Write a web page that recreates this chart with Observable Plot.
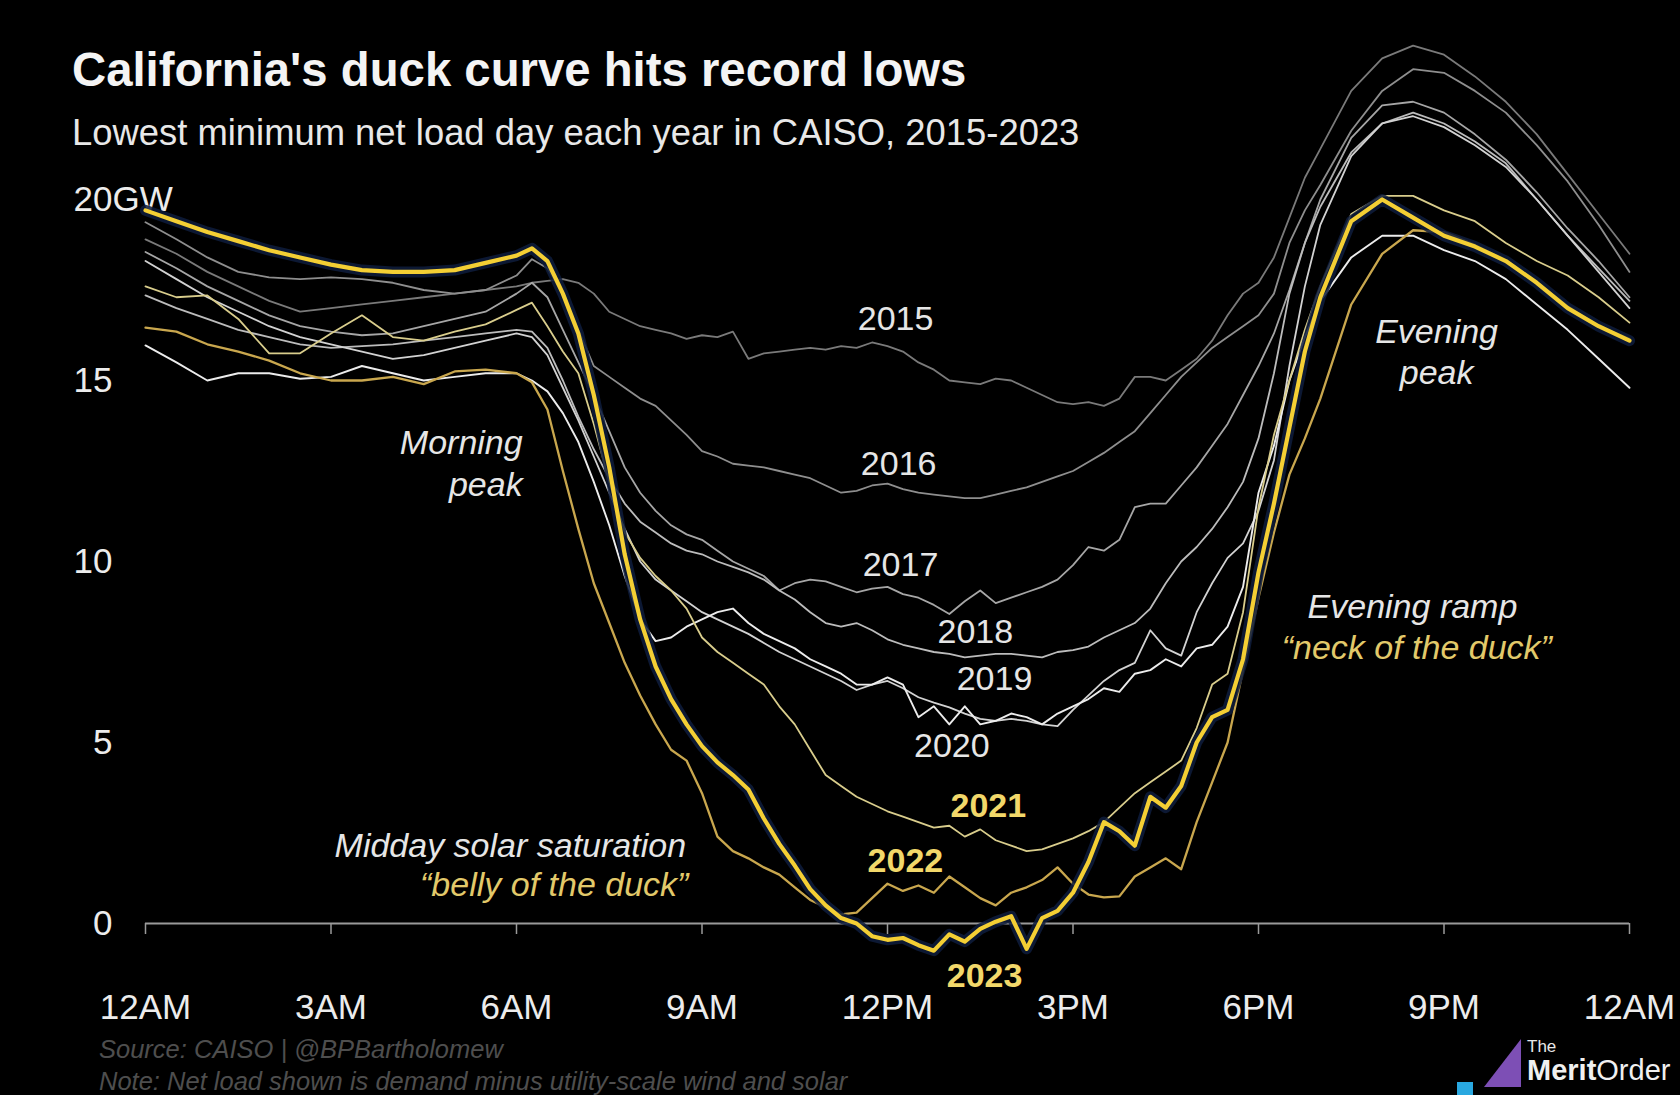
<!DOCTYPE html>
<html>
<head>
<meta charset="utf-8">
<script src="https://cdn.jsdelivr.net/npm/d3@7"></script>
<script src="https://cdn.jsdelivr.net/npm/@observablehq/plot@0.6"></script>
<style>
  html, body { margin: 0; padding: 0; background: #000; }
  #frame { position: relative; width: 1680px; height: 1095px; background: #000; overflow: hidden; font-family: "Liberation Sans", Arial, sans-serif; }
  #chart { position: absolute; left: 0; top: 0; }
  .title { position: absolute; left: 72px; top: 46px; font-size: 47.3px; line-height: 47px; font-weight: bold; color: #f4f4f4; white-space: nowrap; }
  .subtitle { position: absolute; left: 72px; top: 115px; font-size: 36.4px; line-height: 36px; color: #e8e8e8; white-space: nowrap; }
  .foot { position: absolute; left: 99px; font-size: 25.5px; line-height: 25px; font-style: italic; color: #4e4e4e; white-space: nowrap; }
  #logo { position: absolute; left: 1450px; top: 1030px; }
</style>
</head>
<body>
<div id="frame">
  <div id="chart"></div>
  <div class="title">California's duck curve hits record lows</div>
  <div class="subtitle">Lowest minimum net load day each year in CAISO, 2015-2023</div>
  <div class="foot" style="top:1037px">Source: CAISO | @BPBartholomew</div>
  <div class="foot" style="top:1069px">Note: Net load shown is demand minus utility-scale wind and solar</div>
  <svg id="logo" width="230" height="65" viewBox="0 0 230 65">
    <rect x="7" y="52" width="16" height="13" fill="#29a8e0"></rect>
    <polygon points="34,57 71,9 71,57" fill="#7d4fb5"></polygon>
    <text x="77" y="22" font-size="17" fill="#e8e8e8" font-family="Liberation Sans, Arial, sans-serif">The</text>
    <text x="77" y="50" font-size="29" fill="#f0f0f0" font-family="Liberation Sans, Arial, sans-serif"><tspan font-weight="bold">Merit</tspan><tspan>Order</tspan></text>
  </svg>
</div>
<script>
// ---------- DATA ----------
const hours = [0,0.5,1,1.5,2,2.5,3,3.5,4,4.5,5,5.5,
  6,6.25,6.5,6.75,7,7.25,7.5,7.75,8,8.25,8.5,8.75,9,
  9.25,9.5,9.75,10,10.25,10.5,10.75,11,11.25,11.5,11.75,12,
  12.25,12.5,12.75,13,13.25,13.5,13.75,14,14.25,14.5,14.75,15,
  15.25,15.5,15.75,16,16.25,16.5,16.75,17,17.25,17.5,17.75,18,18.25,18.5,18.75,19,
  19.5,20,20.5,21,21.5,22,22.5,23,23.5,24];

const load2015 = [18.9,18.5,18.0,17.6,17.2,16.9,17.0,17.1,17.2,17.3,17.4,17.5,
  17.6,17.7,17.75,17.8,17.7,17.4,16.9,16.7,16.5,16.4,16.3,16.15,16.25,
  16.2,16.35,15.6,15.75,15.8,15.85,15.9,15.85,15.95,15.9,16.05,15.95,
  15.8,15.5,15.3,15.0,14.95,14.9,15.05,15.0,14.8,14.6,14.4,14.35,
  14.4,14.3,14.5,15.1,15.1,15.0,15.3,15.6,16.1,16.8,17.4,17.7,18.4,19.5,20.6,21.4,
  23.0,23.9,24.25,24.0,23.4,22.7,21.8,20.7,19.6,18.5];

const load2016 = [19.37,18.9,18.4,18.0,17.85,17.8,17.85,17.8,17.7,17.5,17.4,17.5,
  17.9,18.35,18.1,17.4,16.4,15.4,15.1,14.8,14.5,14.3,13.9,13.5,13.05,
  12.9,12.7,12.65,12.6,12.5,12.4,12.3,12.1,11.9,11.95,12.1,12.15,
  12.0,11.9,11.85,11.8,11.75,11.75,11.85,11.95,12.05,12.2,12.35,12.5,
  12.75,13.0,13.3,13.6,14.1,14.6,15.1,15.5,15.9,16.2,16.5,16.8,17.4,18.8,19.7,20.4,
  21.9,23.0,23.6,23.5,23.0,22.4,21.5,20.5,19.3,18.0];

const load2017 = [18.55,18.1,17.6,17.2,16.8,16.5,16.35,16.25,16.3,16.5,16.7,16.9,
  17.4,17.7,17.3,16.4,15.5,14.6,13.6,12.6,11.9,11.4,11.0,10.75,10.6,
  10.3,10.0,9.8,9.6,9.2,9.4,9.5,9.45,9.3,9.15,9.25,9.3,
  9.1,9.0,8.8,8.55,8.9,9.2,8.85,9.0,9.15,9.3,9.5,9.9,
  10.4,10.3,10.6,11.5,11.6,11.6,12.1,12.6,13.2,13.8,14.6,15.4,16.3,17.5,18.8,20.0,
  21.7,22.6,22.7,22.4,21.8,21.1,20.2,19.2,18.3,17.3];

const load2018 = [17.35,17.0,16.7,16.4,16.2,16.0,15.9,15.95,16.0,16.1,16.2,16.3,
  16.4,16.35,15.9,15.0,14.0,13.1,12.3,11.6,11.1,10.8,10.5,10.3,10.2,
  10.0,9.85,9.7,9.5,9.2,8.95,8.6,8.3,8.2,8.3,8.1,7.85,
  7.7,7.6,7.5,7.45,7.35,7.4,7.45,7.45,7.4,7.35,7.5,7.55,
  7.65,7.9,8.1,8.3,8.7,9.4,10.0,10.4,10.9,11.5,12.2,13.4,15.2,17.4,18.8,19.8,
  21.3,22.1,22.4,22.1,21.6,21.0,20.0,19.0,18.1,17.2];

const load2019 = [18.3,17.8,17.3,16.9,16.5,16.2,16.0,15.8,15.6,15.7,15.9,16.1,
  16.3,16.2,15.7,14.8,13.9,12.9,11.9,10.9,10.0,9.5,9.2,8.9,8.6,
  8.4,8.2,8.0,7.75,7.5,7.3,7.1,6.9,6.7,6.45,6.6,6.7,
  6.5,6.25,6.1,5.97,5.8,5.65,5.6,5.65,5.6,5.5,5.45,5.9,
  6.3,6.7,7.0,7.2,8.1,7.6,7.4,8.6,9.4,10.1,10.5,11.4,12.8,15.4,17.6,19.3,
  21.2,22.1,22.3,22.0,21.5,20.9,20.0,19.0,18.0,17.0];

const load2020 = [15.97,15.5,15.0,15.2,15.2,15.05,15.1,15.4,15.2,15.0,15.1,15.2,
  15.2,15.0,14.7,14.1,13.3,12.2,11.0,9.6,8.4,7.8,7.9,8.2,8.4,
  8.6,8.7,8.3,8.0,7.8,7.6,7.3,7.1,6.9,6.6,6.6,6.8,
  6.6,5.7,6.0,5.5,6.0,5.5,5.6,5.8,5.7,5.5,5.8,6.0,
  6.2,6.5,6.4,6.9,7.0,7.3,7.1,7.6,7.7,8.2,9.3,11.9,13.2,15.0,16.2,17.2,
  18.4,19.0,19.0,18.6,18.3,17.8,17.1,16.4,15.6,14.8];

const load2021 = [17.6,17.3,17.35,16.7,15.75,15.75,16.3,16.8,16.2,16.1,16.35,16.55,
  16.95,17.15,16.5,15.8,15.2,13.8,12.2,10.8,10.1,9.6,9.2,8.7,7.9,
  7.5,7.2,6.9,6.6,6.0,5.5,4.8,4.1,3.8,3.5,3.3,3.1,
  2.95,2.8,2.65,2.7,2.4,2.6,2.3,2.15,2.0,2.05,2.2,2.35,
  2.55,2.8,3.2,3.6,3.9,4.2,4.5,5.4,6.6,6.9,8.6,11.5,13.5,15.0,16.4,17.6,
  19.6,20.1,20.1,19.7,19.4,18.8,18.3,17.9,17.3,16.6];

const load2022 = [16.46,16.35,16.0,15.8,15.55,15.2,15.0,15.0,15.1,14.9,15.25,15.3,
  15.2,14.95,14.2,12.5,10.9,9.4,8.3,7.2,6.3,5.5,4.8,4.5,3.6,
  2.4,2.0,1.8,1.55,1.35,1.0,0.65,0.45,0.25,0.3,0.7,1.1,
  0.9,1.05,0.85,1.3,1.0,0.7,0.5,0.85,1.0,1.2,1.55,1.1,
  0.8,0.72,0.75,1.3,1.55,1.8,1.5,2.8,3.9,5.0,7.0,9.0,10.8,12.4,13.4,14.5,
  17.1,18.5,19.15,19.1,18.75,18.3,17.7,17.05,16.5,16.15];

const load2023 = [19.7,19.4,19.1,18.85,18.6,18.4,18.2,18.05,18.0,18.0,18.05,18.25,
  18.45,18.65,18.3,17.4,16.3,14.6,12.6,10.2,8.4,7.1,6.2,5.5,4.9,
  4.45,4.1,3.7,2.9,2.2,1.6,0.95,0.5,0.15,0.0,-0.35,-0.45,
  -0.4,-0.6,-0.75,-0.3,-0.5,-0.15,0.05,0.2,-0.7,0.15,0.35,0.85,
  1.7,2.8,2.55,2.15,3.5,3.2,3.8,5.0,5.7,5.9,7.3,9.7,11.6,13.7,15.8,17.3,
  19.4,20.0,19.5,19.0,18.7,18.3,17.7,17.0,16.5,16.1];

const years = [2015,2016,2017,2018,2019,2020,2021,2022,2023];
const seriesByYear = {2015: load2015, 2016: load2016, 2017: load2017, 2018: load2018, 2019: load2019,
  2020: load2020, 2021: load2021, 2022: load2022, 2023: load2023};

const xTickHours = [0,3,6,9,12,15,18,21,24];
const xTickLabels = ["12AM","3AM","6AM","9AM","12PM","3PM","6PM","9PM","12AM"];
const yTicks = [0,5,10,15,20];

// ---------- STYLE ----------
const lineColor = {2015:"#7a7a7a",2016:"#8e8e8e",2017:"#a6a6a6",2018:"#bcbcbc",2019:"#d2d2d2",2020:"#ececec",
  2021:"#d9cd8c",2022:"#c9a74e",2023:"#f4cf34"};
const lineWidth = {2015:1.8,2016:1.8,2017:1.8,2018:1.8,2019:1.8,2020:1.9,2021:1.8,2022:2.3,2023:4.2};
const FONT = "Liberation Sans, Arial, sans-serif";

const rows = years.flatMap(year => hours.map((h, i) => ({year, hour: h, load: seriesByYear[year][i]})));

const lineMarks = [];
for (const year of years) {
  const d = rows.filter(r => r.year === year);
  if (year === 2023) {
    lineMarks.push(Plot.line(d, {x: "hour", y: "load", stroke: "#0e1c3c", strokeWidth: 11, strokeOpacity: 0.85, strokeLinejoin: "round"}));
  }
  lineMarks.push(Plot.line(d, {x: "hour", y: "load", stroke: lineColor[year], strokeWidth: lineWidth[year], strokeLinejoin: "round"}));
}

const yearLabels = [
  {year: "2015", hour: 12.13, load: 16.7},
  {year: "2016", hour: 12.18, load: 12.7},
  {year: "2017", hour: 12.21, load: 9.9},
  {year: "2018", hour: 13.42, load: 8.04},
  {year: "2019", hour: 13.73, load: 6.74},
  {year: "2020", hour: 13.04, load: 4.89},
  {year: "2021", hour: 13.63, load: 3.23},
  {year: "2022", hour: 12.29, load: 1.71},
  {year: "2023", hour: 13.57, load: -1.44}
];
const grayLabels = yearLabels.filter(d => +d.year <= 2020);
const goldLabels = yearLabels.filter(d => +d.year >= 2021);

const chart = Plot.plot({
  width: 1680,
  height: 1095,
  marginLeft: 145,
  marginRight: 51,
  marginTop: 0,
  marginBottom: 172,
  style: {background: "transparent", color: "#e8e8e8", fontFamily: FONT, fontSize: "35px", overflow: "visible"},
  x: {domain: [0, 24], range: [145, 1629]},
  y: {domain: [0, 20], range: [923, 199]},
  marks: [
    Plot.ruleY([0], {stroke: "#9a9a9a", strokeWidth: 2}),
    Plot.axisX({ticks: xTickHours, tickSize: 11, tickFormat: () => "", stroke: "#9a9a9a", strokeWidth: 1.5, label: null}),
    Plot.axisX({ticks: xTickHours, tickSize: 0, tickPadding: 71, tickFormat: d => xTickLabels[xTickHours.indexOf(d)], fill: "#ececec", fontSize: 35, label: null}),
    Plot.axisY({ticks: yTicks, tickSize: 0, tickPadding: 33, tickFormat: d => String(d), fill: "#ececec", fontSize: 35, label: null}),
    Plot.text(["GW"], {y: () => 20, frameAnchor: "left", dx: -33, textAnchor: "start", fill: "#ececec", fontSize: 35}),
    ...lineMarks,
    Plot.text(grayLabels, {x: "hour", y: "load", text: "year", fill: "#e6e6e6", fontSize: 34}),
    Plot.text(goldLabels, {x: "hour", y: "load", text: "year", fill: "#f2d86a", fontSize: 34, fontWeight: "bold"}),
    Plot.text(["Morning\npeak"], {x: () => 6.10, y: () => 12.76, textAnchor: "end", lineHeight: 1.24, fontStyle: "italic", fill: "#e6e6e6", fontSize: 34}),
    Plot.text(["Evening\npeak"], {x: () => 20.88, y: () => 15.83, lineHeight: 1.2, fontStyle: "italic", fill: "#e6e6e6", fontSize: 34}),
    Plot.text(["Evening ramp"], {x: () => 20.49, y: () => 8.73, fontStyle: "italic", fill: "#e6e6e6", fontSize: 34}),
    Plot.text(["\u201cneck of the duck\u201d"], {x: () => 20.56, y: () => 7.62, fontStyle: "italic", fill: "#e2c96a", fontSize: 34}),
    Plot.text(["Midday solar saturation"], {x: () => 5.90, y: () => 2.15, fontStyle: "italic", fill: "#e6e6e6", fontSize: 34}),
    Plot.text(["\u201cbelly of the duck\u201d"], {x: () => 6.61, y: () => 1.05, fontStyle: "italic", fill: "#e2c96a", fontSize: 34})
  ]
});
document.getElementById("chart").appendChild(chart);
</script>
</body>
</html>
